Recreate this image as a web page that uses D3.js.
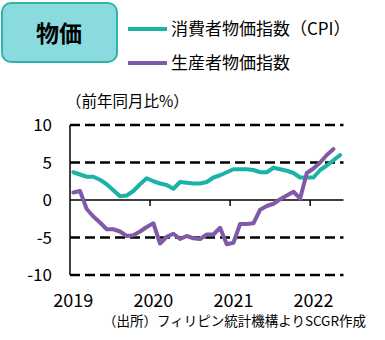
<!DOCTYPE html>
<html>
<head>
<meta charset="utf-8">
<script src="https://cdn.jsdelivr.net/npm/d3@7"></script>
<style>
  body { margin: 0; background: #fff; }
  svg { display: block; font-family: "Noto Sans CJK JP", "DejaVu Sans", sans-serif; }
</style>
</head>
<body>
<div id="chart"></div>
<script>
// monthly values, Jan 2019 .. May 2022
const cpi = [
	3.7, 3.4, 3.1, 3.1, 2.7, 2.1, 1.3, 0.5, 0.6, 1.2, 2.1, 2.9,
	2.5, 2.2, 2.0, 1.5, 2.4, 2.3, 2.2, 2.2, 2.4, 3.0, 3.3, 3.7,
	4.1, 4.1, 4.1, 4.0, 3.7, 3.7, 4.3, 4.1, 3.9, 3.6, 3.0, 3.0,
	3.0, 4.0, 4.6, 5.3, 6.0,
];
const ppi = [
	1.0, 1.2, -1.2, -2.2, -3.0, -3.9, -3.9, -4.2, -4.8, -4.7, -4.2, -3.6,
	-3.1, -5.8, -4.9, -4.5, -5.2, -4.8, -5.1, -5.2, -4.6, -4.6, -3.7, -5.9,
	-5.7, -3.2, -3.2, -3.1, -1.3, -0.8, -0.5, 0.1, 0.6, 1.1, 0.2, 3.6,
	4.2, 5.0, 6.0, 6.8,
];
const years = ["2019", "2020", "2021", "2022"];
const yTicks = [10, 5, 0, -5, -10];
const seriesNames = ["消費者物価指数（CPI）", "生産者物価指数"];
const seriesColors = ["#1ab3a6", "#7f5aa7"];

const W = 385, H = 340;
const svg = d3.select("#chart").append("svg").attr("width", W).attr("height", H);

const x = d3.scaleLinear().domain([0, 41]).range([70, 343.5]);
const y = d3.scaleLinear().domain([-10, 10]).range([275, 125]);

// title box
svg.append("rect")
	.attr("x", 2).attr("y", 3).attr("width", 115).attr("height", 59)
	.attr("rx", 9)
	.attr("fill", "#89dbde").attr("stroke", "#2fb4a9").attr("stroke-width", 2);
svg.append("text")
	.attr("x", 59).attr("y", 42)
	.attr("text-anchor", "middle")
	.style("font-size", "23px").style("font-weight", "bold")
	.text("物価");

// legend
seriesNames.forEach((name, i) => {
	const ly = 29 + i * 34;
	svg.append("line")
		.attr("x1", 128).attr("x2", 167).attr("y1", ly).attr("y2", ly)
		.attr("stroke", seriesColors[i]).attr("stroke-width", 4);
	svg.append("text")
		.attr("x", 171).attr("y", ly + 6)
		.style("font-size", "17px")
		.text(name);
});

svg.append("text")
	.attr("x", 66).attr("y", 107)
	.style("font-size", "15.5px")
	.text("（前年同月比%）");

// grid
const grid = svg.append("g");
yTicks.filter((v) => v !== 0).forEach((v) => {
	grid.append("line")
		.attr("x1", x(0)).attr("x2", x(41))
		.attr("y1", y(v)).attr("y2", y(v))
		.attr("stroke", "#000").attr("stroke-width", 2.5)
		.attr("stroke-dasharray", "10,5");
});

// y axis
svg.append("line")
	.attr("x1", x(0)).attr("x2", x(0)).attr("y1", y(10)).attr("y2", y(-10))
	.attr("stroke", "#000").attr("stroke-width", 1.5);
svg.append("g").selectAll("text").data(yTicks).join("text")
	.attr("x", 52).attr("y", (d) => y(d) + 6)
	.attr("text-anchor", "end")
	.style("font-size", "17px")
	.text((d) => d);

// zero line with year ticks
svg.append("line")
	.attr("x1", x(0)).attr("x2", x(41)).attr("y1", y(0)).attr("y2", y(0))
	.attr("stroke", "#000").attr("stroke-width", 1.5);
years.forEach((yr, i) => {
	if (i > 0) {
		svg.append("line")
			.attr("x1", x(i * 12)).attr("x2", x(i * 12))
			.attr("y1", y(0)).attr("y2", y(0) + 6)
			.attr("stroke", "#000").attr("stroke-width", 1.5);
	}
	svg.append("text")
		.attr("x", x(i * 12 + 0.5)).attr("y", 307)
		.attr("text-anchor", "middle")
		.style("font-size", "18px")
		.text(yr);
});

// lines
const line = d3.line()
	.x((d, i) => x(i + 0.5))
	.y((d) => y(d));

[cpi, ppi].forEach((data, i) => {
	svg.append("path")
		.datum(data)
		.attr("d", line)
		.attr("fill", "none")
		.attr("stroke", seriesColors[i])
		.attr("stroke-width", 4)
		.attr("stroke-linejoin", "round")
		.attr("stroke-linecap", "round");
});

svg.append("text")
	.attr("x", 366).attr("y", 326)
	.attr("text-anchor", "end")
	.style("font-size", "13.5px")
	.text("（出所）フィリピン統計機構よりSCGR作成");
</script>
</body>
</html>
